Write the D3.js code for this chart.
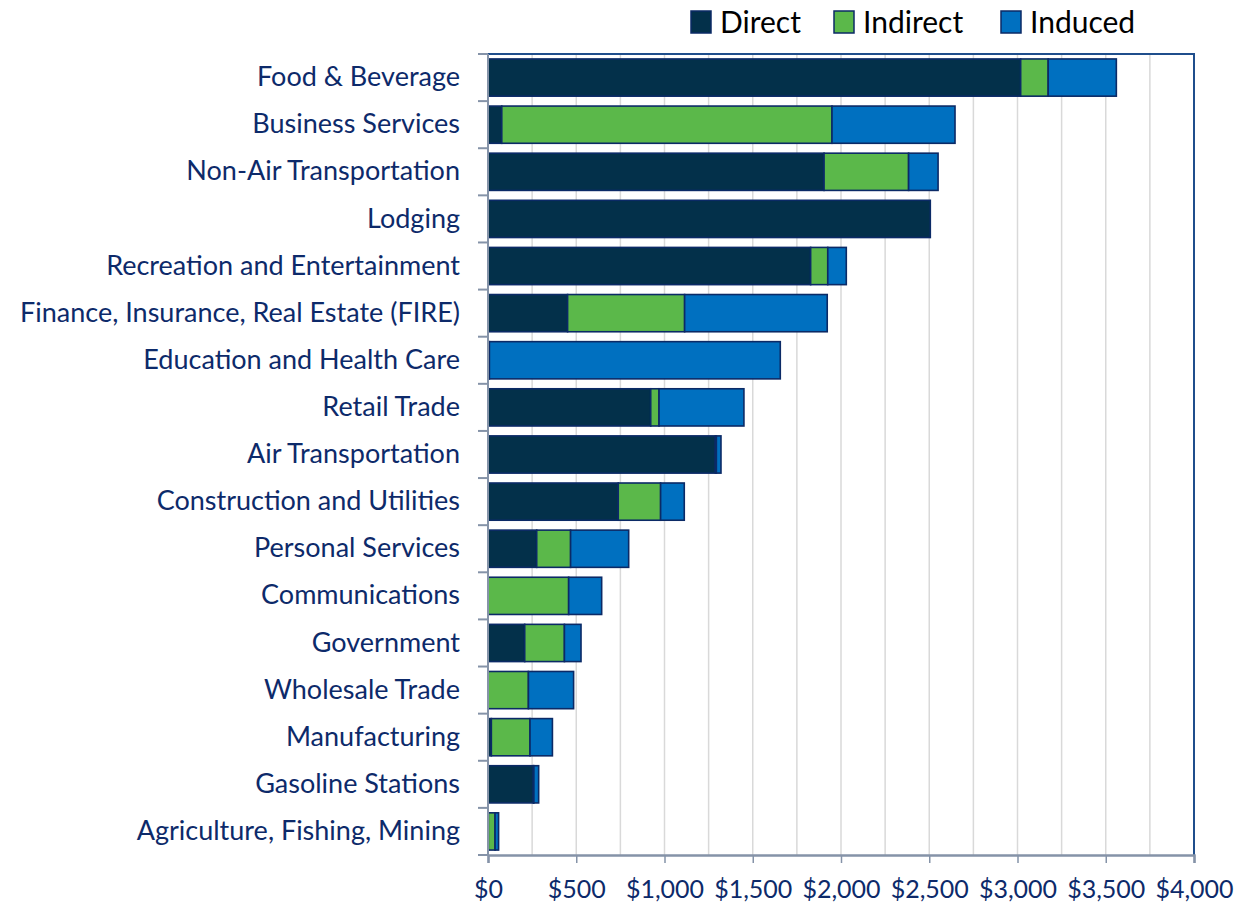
<!DOCTYPE html>
<html>
<head>
<meta charset="utf-8">
<script src="https://cdn.jsdelivr.net/npm/d3@7"></script>
<style>
  body { margin: 0; background: #fff; }
  svg text { font-family: "Lato", "Open Sans", sans-serif; }
</style>
</head>
<body>
<div id="chart"></div>
<script>
// values, in $
var categories = ['Food & Beverage','Business Services','Non-Air Transportation','Lodging',
  'Recreation and Entertainment','Finance, Insurance, Real Estate (FIRE)','Education and Health Care',
  'Retail Trade','Air Transportation','Construction and Utilities','Personal Services',
  'Communications','Government','Wholesale Trade','Manufacturing','Gasoline Stations',
  'Agriculture, Fishing, Mining'];
var direct   = [3018,   78, 1904, 2506, 1828, 451,    8, 922, 1288, 738, 276,   0, 208,   0,  19, 257,  2];
var indirect = [ 156, 1871,  479,    0,   97, 663,    0,  47,    6, 240, 192, 457, 225, 229, 219,   3, 38];
var induced  = [ 386,  697,  167,    0,  105, 808, 1648, 481,   26, 134, 329, 187,  94, 256, 127,  27, 20];
var seriesNames = ['Direct','Indirect','Induced'];
var xTicks = [0,500,1000,1500,2000,2500,3000,3500,4000];

var colors = {'Direct':'#03304a','Indirect':'#5bb84a','Induced':'#0070c0'};
var W = 1247, H = 902,
    pLeft = 488, pRight = 1194, pTop = 54, pBottom = 855;

var rows = categories.map(function(c,i){
  return {cat:c, Direct:direct[i], Indirect:indirect[i], Induced:induced[i]};
});

var svg = d3.select('#chart').append('svg')
  .attr('width',W).attr('height',H);

var x = d3.scaleLinear().domain([0,4000]).range([pLeft,pRight]);
var y = d3.scaleBand().domain(categories).range([pTop,pBottom])
  .paddingInner(0.21).paddingOuter(0.105);

// gridlines every 250
svg.append('g').selectAll('line')
  .data(d3.range(250,4000,250))
  .enter().append('line')
  .attr('x1',function(d){return x(d);}).attr('x2',function(d){return x(d);})
  .attr('y1',pTop).attr('y2',pBottom)
  .attr('stroke','#d9d9d9').attr('stroke-width',1.5);

// border top / right
svg.append('path')
  .attr('d','M'+pLeft+','+pTop+'H'+pRight+'V'+pBottom)
  .attr('fill','none').attr('stroke','#1f4e8c').attr('stroke-width',2);

var stack = d3.stack().keys(seriesNames);
var layers = stack(rows);

svg.append('g').selectAll('g')
  .data(layers)
  .enter().append('g')
  .attr('fill',function(d){return colors[d.key];})
  .selectAll('rect')
  .data(function(d){return d.filter(function(p){return p[1]-p[0] > 0;});})
  .enter().append('rect')
  .attr('x',function(d){return x(d[0]);})
  .attr('y',function(d){return y(d.data.cat);})
  .attr('width',function(d){return x(d[1])-x(d[0]);})
  .attr('height',y.bandwidth())
  .attr('stroke','#0b2a66').attr('stroke-width',1.6);

// left axis
var yAxis = svg.append('g')
  .attr('transform','translate('+pLeft+',0)')
  .call(d3.axisLeft(y).tickSize(0).tickPadding(28));
yAxis.select('.domain').remove();
yAxis.selectAll('text')
  .attr('fill','#0d2a6a').style('font-size','27px');

var step = y.step();
svg.append('g').selectAll('line')
  .data(d3.range(categories.length+1))
  .enter().append('line')
  .attr('x1',pLeft-10).attr('x2',pLeft)
  .attr('y1',function(i){return pTop+i*step;})
  .attr('y2',function(i){return pTop+i*step;})
  .attr('stroke','#8593a8').attr('stroke-width',2);
svg.append('line')
  .attr('x1',pLeft).attr('x2',pLeft).attr('y1',pTop).attr('y2',pBottom)
  .attr('stroke','#8593a8').attr('stroke-width',2);

// bottom axis
var xAxis = svg.append('g')
  .attr('transform','translate(0,'+pBottom+')')
  .call(d3.axisBottom(x).tickValues(xTicks).tickSize(8).tickPadding(17)
    .tickFormat(function(d){return '$'+d3.format(',')(d);}));
xAxis.select('.domain').attr('stroke','#8593a8').attr('stroke-width',2.5);
xAxis.selectAll('.tick line').attr('stroke','#8593a8').attr('stroke-width',1.5);
xAxis.selectAll('text').attr('fill','#0d2a6a').style('font-size','25px');

// legend
var legendX = [691,834,1001];
var lg = svg.append('g').selectAll('g')
  .data(seriesNames)
  .enter().append('g')
  .attr('transform',function(d,i){return 'translate('+legendX[i]+',11)';});
lg.append('rect')
  .attr('width',20).attr('height',22)
  .attr('fill',function(d){return colors[d];})
  .attr('stroke','#0b2a66').attr('stroke-width',1.5);
lg.append('text')
  .attr('x',29).attr('y',22)
  .style('font-size','30px').attr('fill','#000')
  .text(function(d){return d;});
</script>
</body>
</html>
